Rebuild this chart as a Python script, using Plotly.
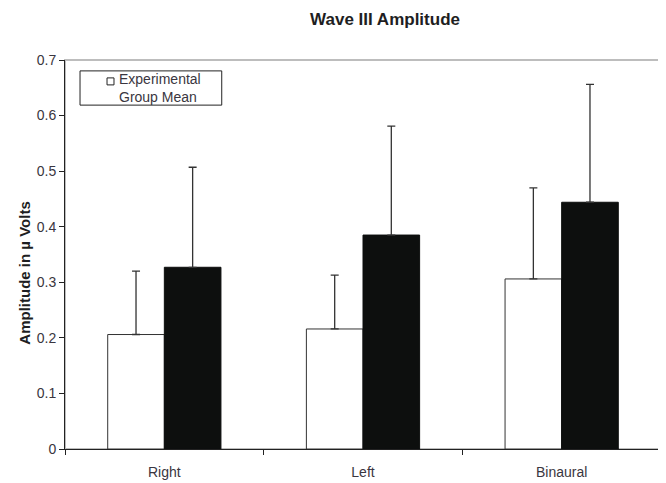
import plotly.graph_objects as go

categories = ["Right", "Left", "Binaural"]
experimental_mean = [0.206, 0.216, 0.306]
experimental_err = [0.114, 0.097, 0.164]
control_mean = [0.327, 0.385, 0.444]
control_err = [0.180, 0.196, 0.212]
y_ticks = [0, 0.1, 0.2, 0.3, 0.4, 0.5, 0.6, 0.7]
y_tick_labels = ["0", "0.1", "0.2", "0.3", "0.4", "0.5", "0.6", "0.7"]
legend_label = "Experimental<br>Group Mean"
y_title = "<b>Amplitude in µ Volts</b>"

font = "Liberation Sans, Arial, sans-serif"
txt = "#3a3640"
fig = go.Figure()
fig.add_trace(go.Bar(
    x=categories, y=experimental_mean, name="Experimental Group Mean",
    marker=dict(color="white", line=dict(color="#333333", width=1)),
    error_y=dict(type="data", array=experimental_err, symmetric=False,
                 arrayminus=[0, 0, 0], color="#333333", thickness=1.3, width=4),
    showlegend=False,
))
fig.add_trace(go.Bar(
    x=categories, y=control_mean, name="Control",
    marker=dict(color="#0d0f0e", line=dict(color="#0d0f0e", width=1)),
    error_y=dict(type="data", array=control_err, symmetric=False,
                 arrayminus=[0, 0, 0], color="#333333", thickness=1.3, width=4),
    showlegend=False,
))

fig.update_layout(
    width=658, height=475,
    margin=dict(l=57, r=5, t=52, b=34, autoexpand=False),
    paper_bgcolor="white", plot_bgcolor="white",
    barmode="group", bargap=0.43, bargroupgap=0,
    font=dict(family=font, size=14, color=txt),
    title=dict(text="<b>Wave III Amplitude</b>", x=0.573, xanchor="center",
               y=0.977, yanchor="middle",
               font=dict(family=font, size=17, color="#1e1e22")),
    xaxis=dict(showline=True, linecolor="#222222", linewidth=1,
               ticks="outside", ticklen=5, tickcolor="#222222",
               tickson="boundaries", showgrid=False, zeroline=False,
               ticklabelstandoff=10, automargin=False,
               tickfont=dict(size=14, color=txt)),
    yaxis=dict(range=[0, 0.7], tickvals=y_ticks, ticktext=y_tick_labels,
               showline=True, linecolor="#222222", linewidth=1,
               ticks="outside", ticklen=5, tickcolor="#222222",
               showgrid=False, zeroline=False, automargin=False,
               tickfont=dict(size=14, color=txt)),
    shapes=[
        dict(type="rect", xref="paper", yref="paper", x0=0, x1=1, y0=0, y1=1,
             line=dict(color="#bdbdbd", width=2), layer="below"),
        # legend box
        dict(type="rect", xref="paper", yref="paper", x0=0.0252, x1=0.263,
             y0=0.884, y1=0.972, line=dict(color="#222222", width=1),
             fillcolor="white", layer="above"),
        # legend symbol
        dict(type="rect", xref="paper", yref="paper", x0=0.0705, x1=0.0822,
             y0=0.936, y1=0.954, line=dict(color="#222222", width=1),
             fillcolor="white", layer="above"),
    ],
    annotations=[
        dict(text=legend_label, xref="paper", yref="paper", x=0.087, y=0.927,
             xanchor="left", yanchor="middle", align="left", showarrow=False,
             font=dict(family=font, size=14, color=txt)),
        dict(text=y_title, xref="paper", yref="paper", x=-0.068, y=0.452,
             xanchor="center", yanchor="middle", textangle=-90, showarrow=False,
             font=dict(family=font, size=15, color="#1e1e22")),
    ],
)

fig.write_html("out.html")
